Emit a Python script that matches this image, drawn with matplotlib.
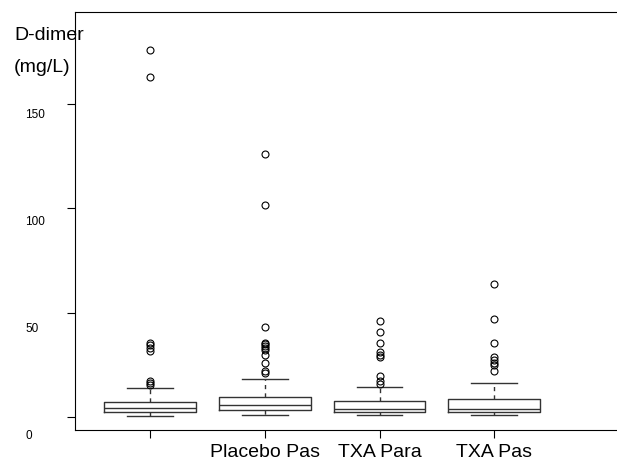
import matplotlib
matplotlib.use('Agg')
import matplotlib.pyplot as plt
import matplotlib.transforms as mtransforms

plt.rcParams['font.family'] = ['Liberation Sans', 'DejaVu Sans']

# groups on the x axis (first one has no label in the source)
groups = ['', 'Placebo Pas', 'TXA Para', 'TXA Pas']
# box statistics (mg/L)
whislo = [0.6, 1.0, 1.2, 1.2]
q1 = [2.4, 3.5, 2.4, 2.4]
med = [4.6, 5.7, 4.0, 4.1]
q3 = [7.3, 9.6, 7.7, 8.9]
whishi = [13.9, 18.3, 14.4, 16.3]
fliers = [
    [15.5, 16.4, 17.2, 31.9, 33.2, 34.6, 35.7, 163, 176],
    [21.0, 22.3, 25.8, 30.0, 32.0, 33.0, 34.0, 35.0, 35.7, 43.2, 101.4, 125.8],
    [15.8, 17.4, 19.8, 29.0, 30.0, 31.1, 35.4, 40.8, 46.2],
    [22.0, 24.8, 26.0, 27.5, 29.0, 35.4, 47.2, 63.6],
]
yticks = [0, 50, 100, 150]

stats = []
for i in range(len(groups)):
    stats.append(dict(whislo=whislo[i], q1=q1[i], med=med[i], q3=q3[i],
                      whishi=whishi[i], fliers=fliers[i]))

fig = plt.figure(figsize=(6.17, 4.62), dpi=100)
ax = fig.add_axes([75/617, 32/462, 1 - 75/617, 418/462])

lc = '#333333'
ax.bxp(stats, positions=range(1, 5), widths=0.8,
       boxprops=dict(color=lc, lw=1),
       medianprops=dict(color=lc, lw=1),
       whiskerprops=dict(color=lc, lw=1, linestyle=(0, (3, 3))),
       capprops=dict(color=lc, lw=1),
       capwidths=0.4,
       flierprops=dict(marker='o', markersize=5, markerfacecolor='none',
                       markeredgecolor='black', markeredgewidth=0.8))

ax.set_xlim(0.346, 5.07)
ax.set_ylim(-6.1, 194)
ax.spines['right'].set_visible(False)

ax.set_xticks(range(1, 5))
ax.set_xticklabels(groups, fontsize=14)
ax.tick_params(axis='x', direction='out', length=6, pad=4)

# y tick labels sit left-aligned and below their tick marks
# (the gap shrinks going up in the source picture)
ax.set_yticks(yticks)
ax.set_yticklabels([])
ax.tick_params(axis='y', direction='out', length=6)
trans = mtransforms.blended_transform_factory(fig.transFigure, ax.transData)
for v in yticks:
    off = mtransforms.ScaledTranslation(0, -(19 - 0.055*v)/100, fig.dpi_scale_trans)
    fig.text(25/617, v, str(v), transform=trans + off, fontsize=8.5,
             ha='left', va='center')

fig.text(14/617, 1 - 36/462, 'D-dimer', fontsize=14, ha='left', va='center')
fig.text(14/617, 1 - 68/462, '(mg/L)', fontsize=14, ha='left', va='center')

plt.savefig('out.png', dpi=100)
